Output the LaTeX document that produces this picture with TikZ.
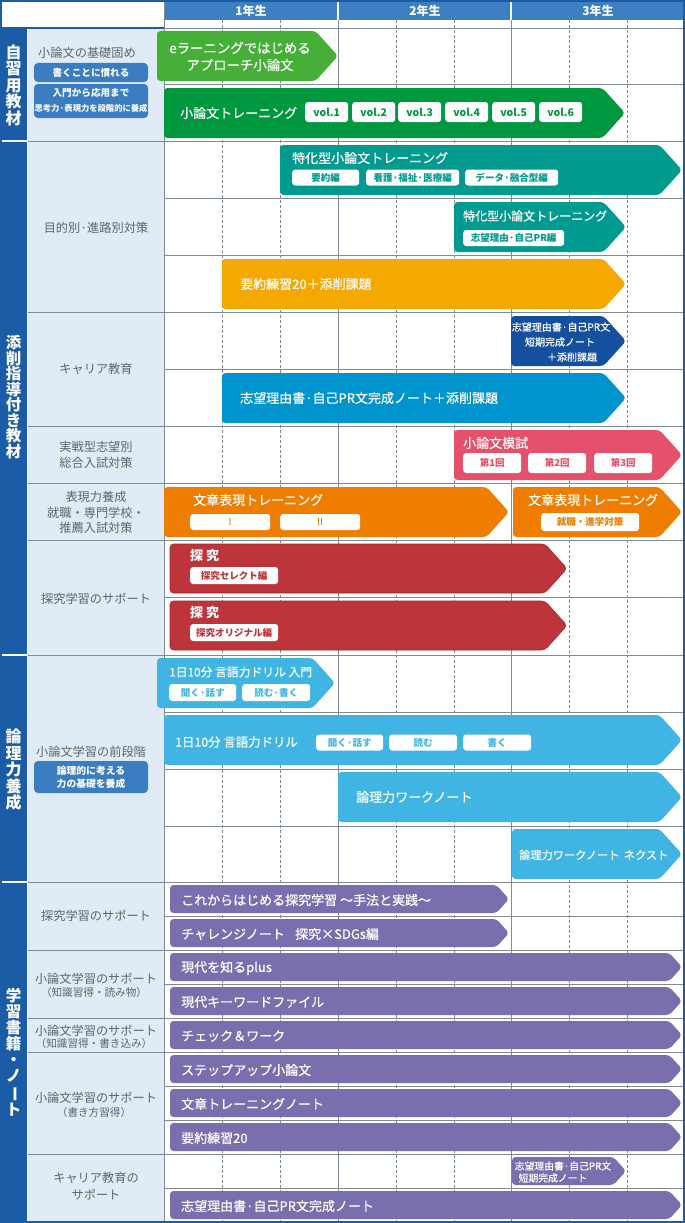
\documentclass[tikz,border=0pt]{standalone}
\usepackage{fontspec}
\usepackage{graphicx}
\setmainfont{Noto Sans CJK JP}
\newfontfamily\medfont{Noto Sans CJK JP}[FakeBold=0.5]
\definecolor{frameblue}{HTML}{1A5DA6}
\definecolor{headblue}{HTML}{3D80C2}
\definecolor{labelbg}{HTML}{E1EBF5}
\definecolor{gridc}{HTML}{7E8B97}
\definecolor{labtext}{HTML}{5A6672}
\definecolor{boxblue}{HTML}{3B7DC1}
\definecolor{lgreen}{HTML}{45AF38}
\definecolor{dgreen}{HTML}{00983F}
\definecolor{myteal}{HTML}{009A8F}
\definecolor{myyellow}{HTML}{F5A800}
\definecolor{mynavy}{HTML}{14509F}
\definecolor{midblue}{HTML}{0094CF}
\definecolor{mypink}{HTML}{E5506A}
\definecolor{myorange}{HTML}{EE7D00}
\definecolor{myred}{HTML}{BE343B}
\definecolor{mysky}{HTML}{40B5E3}
\definecolor{mypurple}{HTML}{7A6FAE}
\newcommand\chevbar[6][]{%
  \pgfmathsetmacro\chd{0.45*(#5-#3)}%
  \pgfmathsetmacro\chm{(#3+#5)/2}%
  \fill[#6,rounded corners=3.5pt,#1] (#2,#3) -- ({#4-\chd},#3) -- (#4,\chm) -- ({#4-\chd},#5) -- (#2,#5) -- cycle;
}
\tikzset{
  bartitle/.style={anchor=west,text=white,inner sep=0pt,font=\medfont\fontsize{13}{14}\selectfont},
  smalltitle/.style={text=white,inner sep=0pt,font=\medfont\fontsize{10}{11}\selectfont},
  tag/.style={fill=white,rounded corners=3pt,text=#1,inner sep=0pt,minimum height=16.5pt,anchor=west,font=\fontsize{9.5}{10}\selectfont\bfseries},
  lab/.style={text=labtext,inner sep=0pt,font=\fontsize{12.2}{14}\selectfont},
  sublab/.style={text=labtext,inner sep=0pt,font=\fontsize{10.6}{12}\selectfont},
  lbox/.style={fill=boxblue,rounded corners=4pt,text=white,inner sep=0pt,align=center,minimum width=114pt,font=\fontsize{9.6}{12}\selectfont\bfseries},
  cat/.style={text=white,inner sep=0pt,align=center,font=\fontsize{16}{16.5}\selectfont\bfseries},
  year/.style={text=white,inner sep=0pt,font=\fontsize{12}{13}\selectfont\bfseries},
  gline/.style={gridc,line width=0.8pt},
  dline/.style={gridc,line width=0.8pt,dash pattern=on 3pt off 2pt},
}
\begin{document}
\begin{tikzpicture}[x=1pt,y=-1pt]
\useasboundingbox (0,0) rectangle (685,1223);
\fill[white] (0,0) rectangle (685,1223);
% columns
\fill[frameblue] (0,28) rectangle (27,1223);
\fill[labelbg] (28,28) rectangle (164,1222);
\fill[headblue] (164,1) rectangle (685,20);
% dark column separators
\foreach \yy in {141,655,882} \draw[white,line width=1.2pt] (0,\yy) -- (27,\yy);
% grid horizontals (timeline)
\foreach \yy in {28,84,141,198,255,312,369,426,483,540,597,655,712,769,826,882,916,950,984,1018,1052,1086,1120,1154,1188}
  \draw[gline] (164,\yy) -- (685,\yy);
% label column group lines
\foreach \yy in {28,141,312,426,483,540,655,882,950,1018,1052,1154}
  \draw[gline] (28,\yy) -- (164,\yy);
% verticals
\draw[gline] (164,0) -- (164,1222);
\foreach \xx in {338,511} {\draw[white,line width=1.2pt] (\xx,1) -- (\xx,20); \draw[gline] (\xx,20) -- (\xx,1222);}
\foreach \xx in {222,280,396,454,569,627} \draw[dline] (\xx,20) -- (\xx,1222);
% frame
\draw[frameblue,line width=2pt] (1,1) rectangle (684,1222);
\draw[frameblue,line width=1.2pt] (0,28) -- (164,28);
% years
\node[year] (y1) at (251,10.5) {1年生};
\node[year] (y2) at (425,10.5) {2年生};
\node[year] (y3) at (598,10.5) {3年生};
% category column
\node[cat] (c1) at (13.5,85) {自\\習\\用\\教\\材};
\node[cat,font=\fontsize{15.5}{15.5}\selectfont\bfseries] (c2) at (13.5,397) {添\\削\\指\\導\\付\\き\\教\\材};
\node[cat] (c3) at (13.5,770) {論\\理\\力\\養\\成};
\node[cat,font=\fontsize{15.5}{16}\selectfont\bfseries] (c4) at (13.5,1052) {学\\習\\書\\籍\\・\\ノ\\\rotatebox[origin=c]{-90}{ー}\\ト};
% labels section 1
\node[lab] (l1) at (87,53) {小論文の基礎固め};
\node[lbox,minimum height=19pt] (lb1) at (91,72.5) {書くことに慣れる};
\node[lbox,minimum height=34pt] (lb2) at (91,101) {};
\node[text=white,inner sep=0pt,font=\fontsize{9.6}{11}\selectfont\bfseries] (lb2a) at (91,93) {入門から応用まで};
\node[text=white,inner sep=0pt,font=\fontsize{8.3}{10}\selectfont\bfseries] (lb2b) at (91,108) {思考力·表現力を段階的に養成};
% labels section 2
\node[lab] (l2) at (96,228) {目的別·進路別対策};
\node[lab] (l3) at (96,369) {キャリア教育};
\node[lab] (l4a) at (96,447) {実戦型志望別};
\node[lab] (l4b) at (96,463) {総合入試対策};
\node[lab] (l5a) at (96,497) {表現力養成};
\node[lab] (l5b) at (96,512.5) {就職・専門学校・};
\node[lab] (l5c) at (96,528) {推薦入試対策};
\node[lab] (l6) at (96,599) {探究学習のサポート};
% labels section 3
\node[lab] (l7) at (91,752) {小論文学習の前段階};
\node[lbox,minimum height=32pt] (lb3) at (91,777) {};
\node[text=white,inner sep=0pt,font=\fontsize{9.8}{11}\selectfont\bfseries] (lb3a) at (91,771) {論理的に考える};
\node[text=white,inner sep=0pt,font=\fontsize{9.8}{11}\selectfont\bfseries] (lb3b) at (91,784) {力の基礎を養成};
% labels section 4
\node[lab] (l8) at (96,916) {探究学習のサポート};
\node[lab] (l9a) at (96,979) {小論文学習のサポート};
\node[sublab] (l9b) at (94,992) {（知識習得・読み物）};
\node[lab] (l10a) at (96,1031) {小論文学習のサポート};
\node[sublab] (l10b) at (94,1043) {（知識習得・書き込み）};
\node[lab] (l11a) at (96,1098) {小論文学習のサポート};
\node[sublab] (l11b) at (94,1112) {（書き方習得）};
\node[lab] (l12a) at (96,1178) {キャリア教育の};
\node[lab] (l12b) at (96,1195) {サポート};
% ---- bars section 1
\chevbar{157}{31}{338}{81}{lgreen}
\node[text=white,inner sep=0pt,align=center,font=\medfont\fontsize{13.4}{17}\selectfont] (b1) at (240,56.5) {eラーニングではじめる\\アプローチ小論文};
\chevbar{164}{88}{625}{138}{dgreen}
\node[bartitle] (b2) at (180,113) {小論文トレーニング};
\foreach \xx/\vv in {305/1,352/2,398/3,445/4,492/5,539/6}
  \node[tag=dgreen,minimum width=43pt,minimum height=20pt,font=\fontsize{10.5}{11}\selectfont\bfseries] (vol\vv) at (\xx,112) {vol.\vv};
% section 2
\chevbar{280}{145}{682}{195}{myteal}
\node[bartitle] (b3) at (292,158) {特化型小論文トレーニング};
\node[tag=myteal,minimum width=67pt,minimum height=16pt] (t3a) at (292,177.5) {要約編};
\node[tag=myteal,minimum width=93pt,minimum height=16pt] (t3b) at (366,177.5) {看護·福祉·医療編};
\node[tag=myteal,minimum width=93pt,minimum height=16pt] (t3c) at (465,177.5) {データ·融合型編};
\chevbar{454}{202}{626}{252}{myteal}
\node[bartitle,font=\medfont\fontsize{12}{13}\selectfont] (b4) at (463,216) {特化型小論文トレーニング};
\node[tag=myteal,minimum width=101pt,minimum height=16pt] (t4) at (463,238) {志望理由·自己PR編};
\chevbar{222}{259}{626}{309}{myyellow}
\node[bartitle] (b5) at (240,284) {要約練習20＋添削課題};
\chevbar{511}{316}{626}{366}{mynavy}
\node[smalltitle] (b6a) at (561,327) {志望理由書·自己PR文};
\node[smalltitle] (b6b) at (560,342) {短期完成ノート};
\node[smalltitle] (b6c) at (572,357) {＋添削課題};
\chevbar{222}{373}{626}{423}{midblue}
\node[bartitle] (b7) at (240,398) {志望理由書·自己PR文完成ノート＋添削課題};
\chevbar{454}{430}{682}{480}{mypink}
\node[bartitle] (b8) at (463,443) {小論文模試};
\node[tag=mypink,minimum width=58pt,minimum height=20pt] (t8a) at (463,463) {第1回};
\node[tag=mypink,minimum width=58pt,minimum height=20pt] (t8b) at (528,463) {第2回};
\node[tag=mypink,minimum width=58pt,minimum height=20pt] (t8c) at (594,463) {第3回};
\chevbar{164}{487}{509}{537}{myorange}
\node[bartitle] (b9) at (193,500) {文章表現トレーニング};
\node[tag=myorange,minimum width=80pt,minimum height=16pt,font=\fontsize{10}{10}\selectfont] (t9a) at (190,522) {Ⅰ};
\node[tag=myorange,minimum width=80pt,minimum height=16pt,font=\fontsize{10}{10}\selectfont] (t9b) at (280,522) {Ⅱ};
\chevbar{513}{487}{682}{537}{myorange}
\node[bartitle] (b10) at (528,500) {文章表現トレーニング};
\node[tag=myorange,minimum width=98pt,minimum height=18pt] (t10) at (541,522) {就職・進学対策};
\chevbar[draw=myred!80!black,line width=0.6pt]{170}{544}{567}{593}{myred}
\node[bartitle,font=\fontsize{13}{14}\selectfont\bfseries] (b11) at (190,556) {探 究};
\node[tag=myred,minimum width=88pt,minimum height=17pt] (t11) at (190,575.5) {探究セレクト編};
\chevbar[draw=myred!80!black,line width=0.6pt]{170}{601}{567}{650}{myred}
\node[bartitle,font=\fontsize{13}{14}\selectfont\bfseries] (b12) at (190,613) {探 究};
\node[tag=myred,minimum width=88pt,minimum height=17pt] (t12) at (190,632.5) {探究オリジナル編};
% section 3
\chevbar{157}{658}{335}{708}{mysky}
\node[bartitle,font=\medfont\fontsize{11.8}{13}\selectfont] (b13) at (169,672) {1日10分 言語力ドリル 入門};
\node[tag=mysky,minimum width=67pt,minimum height=17pt] (t13a) at (169,692.5) {聞く·話す};
\node[tag=mysky,minimum width=68pt,minimum height=17pt] (t13b) at (242,692.5) {読む·書く};
\chevbar{164}{715}{682}{765}{mysky}
\node[bartitle,font=\medfont\fontsize{12.4}{13}\selectfont] (b14) at (175,742) {1日10分 言語力ドリル};
\node[tag=mysky,minimum width=67pt,minimum height=16pt] (t14a) at (316,742.5) {聞く·話す};
\node[tag=mysky,minimum width=68pt,minimum height=16pt] (t14b) at (389,742.5) {読む};
\node[tag=mysky,minimum width=68pt,minimum height=16pt] (t14c) at (463,742.5) {書く};
\chevbar{338}{772}{682}{822}{mysky}
\node[bartitle] (b15) at (356,797) {論理力ワークノート};
\chevbar{512}{829}{682}{879}{mysky}
\node[bartitle,font=\medfont\fontsize{11.2}{13}\selectfont] (b16) at (519,855) {論理力ワークノート\hspace{0.4em}ネクスト};
% section 4
\chevbar{170}{885}{509}{913}{mypurple}
\node[bartitle] (p1) at (181,900) {これからはじめる探究学習 ～手法と実践～};
\chevbar{170}{919}{509}{947}{mypurple}
\node[bartitle] (p2) at (181,934) {チャレンジノート\hspace{0.8em}探究×SDGs編};
\chevbar{170}{953}{682}{981}{mypurple}
\node[bartitle] (p3) at (181,968) {現代を知るplus};
\chevbar{170}{987}{682}{1015}{mypurple}
\node[bartitle] (p4) at (181,1002) {現代キーワードファイル};
\chevbar{170}{1021}{682}{1049}{mypurple}
\node[bartitle] (p5) at (181,1036) {チェック＆ワーク};
\chevbar{170}{1055}{682}{1083}{mypurple}
\node[bartitle] (p6) at (181,1070) {ステップアップ小論文};
\chevbar{170}{1089}{682}{1117}{mypurple}
\node[bartitle] (p7) at (181,1104) {文章トレーニングノート};
\chevbar{170}{1123}{682}{1151}{mypurple}
\node[bartitle] (p8) at (181,1138) {要約練習20};
\chevbar{512}{1157}{626}{1185}{mypurple}
\node[smalltitle,font=\medfont\fontsize{9.8}{11}\selectfont] (p9a) at (563,1166) {志望理由書·自己PR文};
\node[smalltitle,font=\medfont\fontsize{9.8}{11}\selectfont] (p9b) at (553,1178) {短期完成ノート};
\chevbar{170}{1191}{682}{1219}{mypurple}
\node[bartitle] (p10) at (181,1206) {志望理由書·自己PR文完成ノート};
\end{tikzpicture}
\end{document}
